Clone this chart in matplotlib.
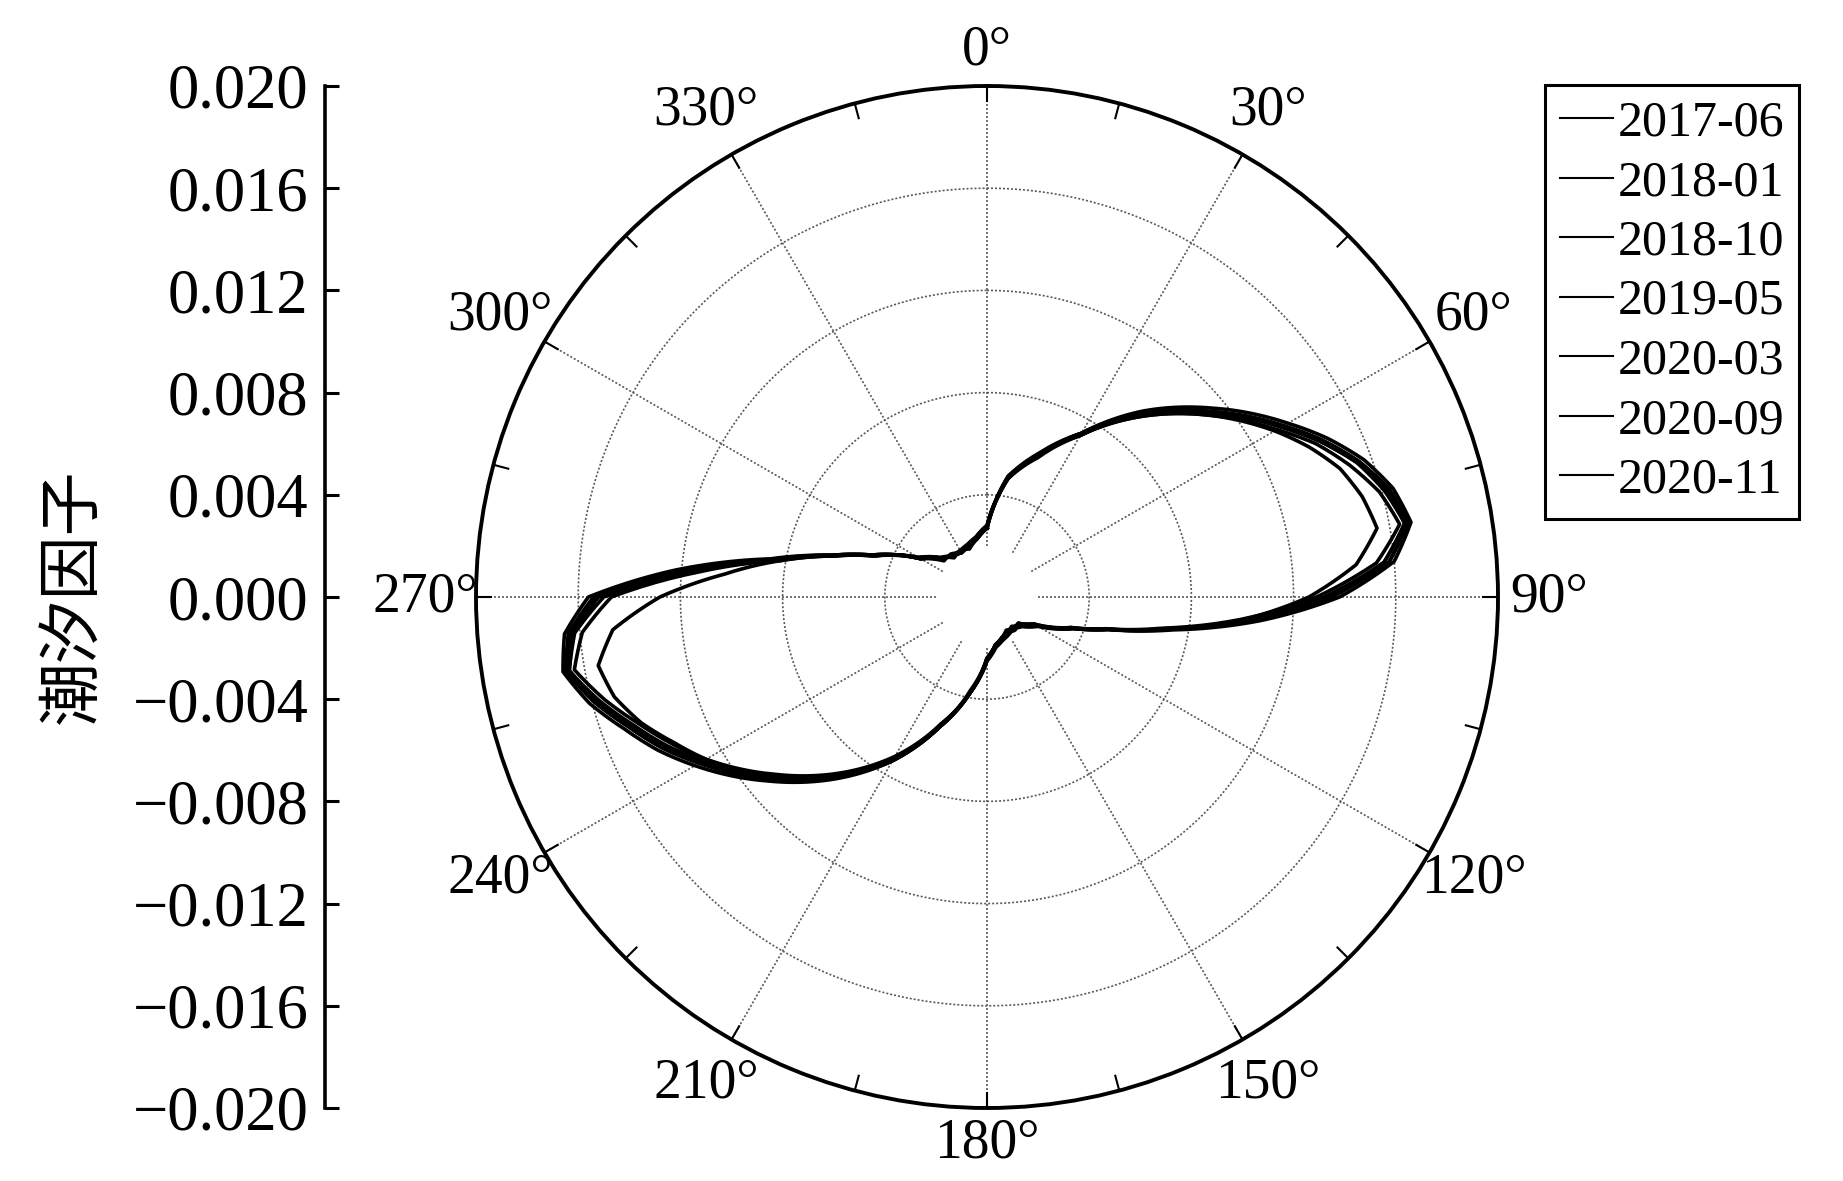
import numpy as np
import matplotlib
matplotlib.use('Agg')
import matplotlib.pyplot as plt

plt.rcParams['font.family'] = ['Liberation Serif', 'Noto Sans CJK SC']
plt.rcParams['axes.unicode_minus'] = True

# azimuth (deg, clockwise from north) and tidal factor (x 1e-3) per survey
angles = [0, 10, 20, 30, 40, 50, 60, 65, 70, 75, 80, 85, 90, 95, 100, 105, 110,
          120, 130, 140, 150, 160, 170, 180, 190, 200, 210, 220, 230, 240,
          245, 250, 255, 260, 265, 270, 275, 280, 285, 290,
          300, 310, 320, 330, 340, 350]

s2017_06 = [2.7, 4.7, 5.9, 7.4, 9.5, 11.5, 13.6, 14.7, 15.7, 16.45, 16.85, 16.0, 13.8, 10.7, 7.4, 4.9, 3.6,
            2.1, 1.6, 1.6, 1.6, 1.7, 1.9, 2.4, 3.8, 5.4, 7.4, 9.3, 11.2, 13.2,
            14.2, 15.1, 16.1, 16.85, 16.6, 15.6, 12.2, 8.6, 6.3, 4.8,
            3.0, 2.3, 2.1, 2.0, 2.1, 2.3]
s2018_01 = [2.7, 4.8, 6.0, 7.4, 9.4, 11.3, 13.4, 14.5, 15.5, 16.3, 16.75, 15.8, 13.5, 10.4, 7.2, 4.8, 3.5,
            2.2, 1.7, 1.5, 1.6, 1.8, 2.0, 2.5, 3.8, 5.3, 7.3, 9.2, 11.0, 13.0,
            14.0, 14.9, 15.9, 16.75, 16.45, 15.4, 11.9, 8.4, 6.3, 4.7,
            3.1, 2.4, 2.0, 2.1, 2.2, 2.3]
s2018_10 = [2.8, 4.7, 5.9, 7.3, 9.3, 11.2, 13.3, 14.4, 15.4, 16.1, 16.6, 15.6, 13.2, 10.2, 7.1, 4.9, 3.6,
            2.3, 1.8, 1.6, 1.5, 1.7, 1.9, 2.4, 3.7, 5.4, 7.3, 9.1, 10.9, 12.8,
            13.8, 14.7, 15.7, 16.6, 16.2, 15.0, 11.5, 8.3, 6.2, 4.8,
            3.0, 2.2, 2.2, 2.0, 2.1, 2.4]
s2019_05 = [2.7, 4.8, 5.9, 7.4, 9.4, 11.3, 13.4, 14.5, 15.5, 16.3, 16.7, 15.8, 13.4, 10.4, 7.3, 4.8, 3.5,
            2.1, 1.6, 1.7, 1.6, 1.7, 2.0, 2.4, 3.8, 5.4, 7.4, 9.2, 11.1, 13.0,
            14.0, 14.9, 15.9, 16.7, 16.35, 15.3, 11.8, 8.5, 6.3, 4.8,
            3.0, 2.3, 2.1, 2.1, 2.0, 2.3]
s2020_03 = [2.8, 4.7, 5.8, 7.3, 9.2, 11.1, 13.1, 14.2, 15.1, 15.9, 16.4, 15.3, 12.9, 10.0, 7.0, 4.8, 3.6,
            2.2, 1.7, 1.6, 1.7, 1.8, 1.9, 2.5, 3.8, 5.3, 7.2, 9.0, 10.8, 12.7,
            13.6, 14.5, 15.5, 16.4, 15.9, 14.7, 11.3, 8.2, 6.2, 4.7,
            3.1, 2.4, 2.1, 2.0, 2.2, 2.4]
s2020_09 = [2.7, 4.8, 5.9, 7.4, 9.3, 11.3, 13.3, 14.4, 15.4, 16.2, 16.6, 15.6, 13.3, 10.3, 7.2, 4.9, 3.5,
            2.2, 1.6, 1.6, 1.6, 1.7, 1.9, 2.4, 3.8, 5.4, 7.4, 9.2, 11.0, 12.9,
            13.9, 14.8, 15.8, 16.6, 16.25, 15.2, 11.7, 8.4, 6.3, 4.8,
            3.0, 2.3, 2.1, 2.0, 2.1, 2.3]
s2020_11 = [2.7, 4.7, 5.9, 7.3, 9.2, 11.1, 13.0, 13.9, 14.7, 15.2, 15.5, 14.5, 12.6, 10.1, 7.2, 4.9, 3.6,
            2.2, 1.7, 1.6, 1.6, 1.7, 1.9, 2.4, 3.8, 5.4, 7.3, 9.1, 10.9, 12.7,
            13.5, 14.4, 15.1, 15.45, 14.7, 12.8, 10.3, 8.2, 6.2, 4.7,
            3.0, 2.3, 2.1, 2.0, 2.1, 2.3]

series = [s2017_06, s2018_01, s2018_10, s2019_05, s2020_03, s2020_09, s2020_11]
labels = ['2017-06', '2018-01', '2018-10', '2019-05', '2020-03', '2020-09', '2020-11']

theta_labels = [0, 30, 60, 90, 120, 150, 180, 210, 240, 270, 300, 330]
y_ticks = [0.020, 0.016, 0.012, 0.008, 0.004, 0.000, -0.004, -0.008, -0.012, -0.016, -0.020]
rmax = 0.02

W, H = 1843, 1181
fig = plt.figure(figsize=(W / 100, H / 100), dpi=100)

# polar panel
ax = fig.add_axes([476 / W, 1 - 1108 / H, 1022 / W, 1022 / H], projection='polar')
ax.set_theta_zero_location('N')
ax.set_theta_direction(-1)
ax.set_ylim(0, rmax)
ax.set_xticks([])
ax.set_yticks([])
ax.grid(False)
ax.spines['polar'].set_linewidth(2.8)

# dotted grid like the matlab polar plot
t = np.linspace(0, 2 * np.pi, 721)
for rr in [0.004, 0.008, 0.012, 0.016]:
    ax.plot(t, np.full_like(t, rr), color='0.35', lw=1.2, ls=(0, (1.2, 1.2)))
for a in range(0, 360, 30):
    ax.plot([np.deg2rad(a)] * 2, [0.002, rmax], color='0.35', lw=1.2, ls=(0, (1.2, 1.2)))
for a in range(0, 360, 15):
    ax.plot([np.deg2rad(a)] * 2, [0.0194, rmax], color='k', lw=1.5)

for a in theta_labels:
    f = 1.07 if a in (0, 180) else 1.1
    ax.text(np.deg2rad(a), rmax * f, '%d°' % a, ha='center', va='center',
            fontsize=40, clip_on=False)

th = np.deg2rad(np.append(angles, 360))
for vals, lab in zip(series, labels):
    r = np.append(vals, vals[0]) * 1e-3
    ln, = ax.plot(th, r, color='k', lw=2.6, label=lab)
    ln.get_path()._interpolation_steps = 12

leg = fig.legend(loc='upper left', bbox_to_anchor=(1545 / W, 1 - 85 / H),
                 bbox_transform=fig.transFigure, borderaxespad=0,
                 fontsize=36, frameon=True, fancybox=False, edgecolor='k',
                 framealpha=1, handlelength=1.05, handletextpad=0.1,
                 labelspacing=0.26, borderpad=0.3)
leg.get_frame().set_linewidth(2.2)
for ln in leg.get_lines():
    ln.set_linewidth(1.5)

# left linear scale spanning the polar diameter
ax2 = fig.add_axes([325 / W, 1 - 1108 / H, 0.001, 1022 / H])
ax2.patch.set_visible(False)
for s in ['top', 'right', 'bottom']:
    ax2.spines[s].set_visible(False)
ax2.spines['left'].set_linewidth(2.6)
ax2.set_xticks([])
ax2.set_ylim(-rmax, rmax)
ax2.set_yticks(y_ticks)
ax2.set_yticklabels([('%.3f' % abs(v)) if v >= 0 else '\u2212%.3f' % abs(v) for v in y_ticks])
ax2.tick_params(axis='y', direction='in', length=10, width=2.2, labelsize=45, pad=12)

fig.text(72 / W, 1 - 596 / H, '潮汐因子', rotation=90, ha='center', va='center',
         fontsize=46, family=['Noto Sans CJK SC'])

fig.savefig('out.png', dpi=100)
